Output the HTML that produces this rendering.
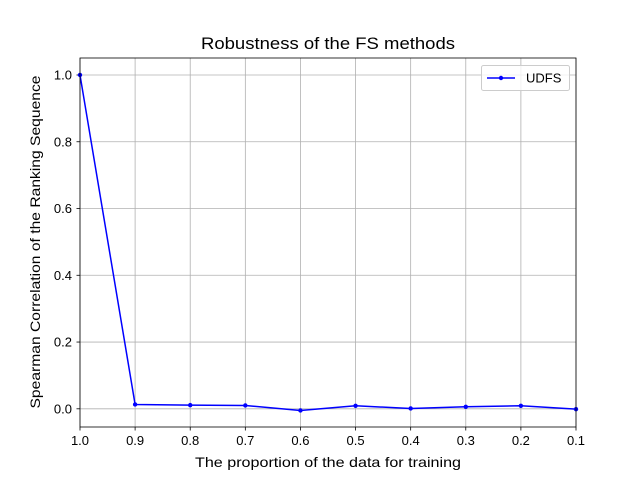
<!DOCTYPE html>
<html><head><meta charset="utf-8"><style>body{margin:0;background:#fff}svg{display:block;font-family:"Liberation Sans",sans-serif}</style></head>
<body>
<div style="position:relative;width:640px;height:480px">
<svg id="chart" width="640" height="480" style="position:absolute;left:0;top:0"></svg>
<svg width="640" height="480" style="position:absolute;left:0;top:0;font-family:'Liberation Sans',sans-serif">
<text x="328" y="49" text-anchor="middle" font-size="16.5" textLength="254" lengthAdjust="spacingAndGlyphs">Robustness of the FS methods</text>
<text x="328" y="467" text-anchor="middle" font-size="14" textLength="266" lengthAdjust="spacingAndGlyphs">The proportion of the data for training</text>
<text transform="translate(40,242) rotate(-90)" text-anchor="middle" font-size="14" textLength="333" lengthAdjust="spacingAndGlyphs">Spearman Correlation of the Ranking Sequence</text>
<g>
<rect x="481.5" y="65.5" width="88" height="25" rx="2" fill="#fff" fill-opacity="0.8" stroke="#ccc"/>
<line x1="487" x2="515" y1="78" y2="78" stroke="#0000ff" stroke-width="1.5"/>
<circle cx="501" cy="78" r="2.2" fill="#0000ff"/>
<text x="526" y="82.5" font-size="13">UDFS</text>
</g>
</svg>
</div>
<script>
const categories=[1.0,0.9,0.8,0.7,0.6,0.5,0.4,0.3,0.2,0.1];
const udfsValues=[1.0,0.013,0.011,0.010,-0.005,0.009,0.001,0.006,0.009,-0.001];
const xTickLabels=["1.0","0.9","0.8","0.7","0.6","0.5","0.4","0.3","0.2","0.1"];
const yTicks=[0,0.2,0.4,0.6,0.8,1.0];
const yTickLabels=["0.0","0.2","0.4","0.6","0.8","1.0"];
const L=80,R=576,T=58,B=427,ymin=-0.0545,ymax=1.0509;
const xs=v=>L+(1.0-v)/0.9*(R-L);
const ys=v=>B-(v-ymin)/(ymax-ymin)*(B-T);
const svg=document.getElementById('chart');const NS='http://www.w3.org/2000/svg';
function mk(tag,attrs,parent){const e=document.createElementNS(NS,tag);for(const k in attrs)e.setAttribute(k,attrs[k]);(parent||svg).appendChild(e);return e;}
const grid=mk('g',{});


categories.forEach((c,i)=>{const x=xs(c);
mk('line',{x1:x,x2:x,y1:T,y2:B,stroke:'#b0b0b0','stroke-width':0.8},grid);
mk('line',{x1:x,x2:x,y1:B,y2:B+3.5,stroke:'#000','stroke-width':0.8});
const t=mk('text',{x:x,y:B+18,'text-anchor':'middle','font-size':13});t.textContent=xTickLabels[i];

});
yTicks.forEach((v,i)=>{const y=ys(v);
mk('line',{x1:L,x2:R,y1:y,y2:y,stroke:'#b0b0b0','stroke-width':0.8},grid);
mk('line',{x1:L-3.5,x2:L,y1:y,y2:y,stroke:'#000','stroke-width':0.8});
const t=mk('text',{x:L-8,y:y+4.5,'text-anchor':'end','font-size':13});t.textContent=yTickLabels[i];

});
const pts=categories.map((c,i)=>xs(c)+','+ys(udfsValues[i])).join(' ');
const line=mk('polyline',{points:pts,fill:'none',stroke:'#0000ff','stroke-width':1.5});


categories.forEach((c,i)=>{const p=mk('circle',{cx:xs(c),cy:ys(udfsValues[i]),r:2.2,fill:'#0000ff'});

});
const frame=mk('rect',{x:L,y:T,width:R-L,height:B-T,fill:'none',stroke:'#000','stroke-width':0.8});


</script>
</body></html>
